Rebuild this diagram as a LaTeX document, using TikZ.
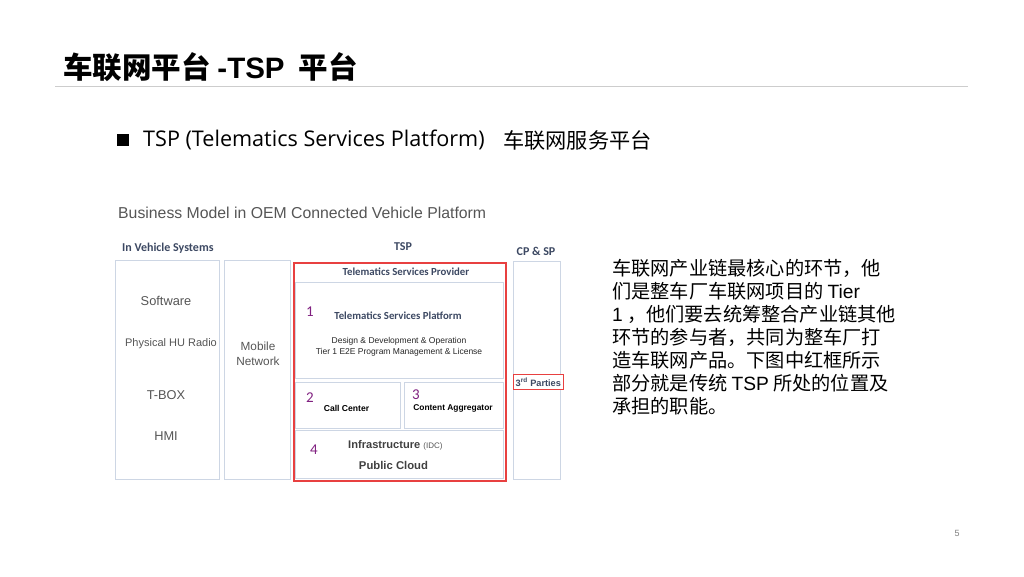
\documentclass[tikz,border=0pt]{standalone}
\usepackage{fontspec}
\setmainfont{Liberation Sans}
\newfontfamily\cjk{Noto Sans CJK SC}
\newfontfamily\calib{Carlito}
\newfontfamily\segoe{Open Sans}
\definecolor{boxc}{RGB}{205,214,228}
\definecolor{redc}{RGB}{232,64,64}
\definecolor{headc}{RGB}{60,72,98}
\definecolor{grayt}{RGB}{85,85,85}
\definecolor{purp}{RGB}{128,32,128}
\definecolor{linec}{RGB}{205,205,205}
\begin{document}
\begin{tikzpicture}[x=1pt,y=-1pt,
  box/.style={draw=boxc,line width=1pt,anchor=north west,inner sep=0pt},
  redbox/.style={draw=redc,line width=1.6pt,anchor=north west,inner sep=0pt},
  lbl/.style={inner sep=0pt},
  head/.style={lbl,font=\calib\bfseries\fontsize{12}{14}\selectfont,text=headc},
  sub/.style={lbl,font=\fontsize{12.8}{15}\selectfont,text=grayt},
  num/.style={lbl,font=\calib\fontsize{15}{17}\selectfont,text=purp},
  para/.style={lbl,anchor=west,font=\cjk\fontsize{19.2}{22}\selectfont}]
\useasboundingbox (0,0) rectangle (1024,576);
% title
\node[lbl,anchor=west,font=\cjk\bfseries\fontsize{29.5}{32}\selectfont] (title) at (63,67) {车联网平台 {\rmfamily\bfseries -TSP}\hspace{14pt}平台};
\coordinate (l1) at (55,86.5);
\coordinate (l2) at (968,86.5);
\draw[linec,line width=0.8pt] (l1) -- (l2);
% bullet
\node[lbl,fill=black,minimum size=12pt,anchor=center] (bul) at (123,140) {};
\node[lbl,anchor=west,font=\segoe\fontsize{21.6}{24}\selectfont] (bt) at (143,140) {TSP (Telematics Services Platform)};
\node[lbl,anchor=west,font=\cjk\fontsize{21.2}{24}\selectfont] (bc) at (503,140) {车联网服务平台};
% diagram title
\node[lbl,anchor=west,font=\fontsize{15.8}{18}\selectfont,text=grayt] (bm) at (118,213) {Business Model in OEM Connected Vehicle Platform};
% column heads
\node[head,anchor=west] (h1) at (122,248) {In Vehicle Systems};
\node[head] (h2) at (403,247) {TSP};
\node[head] (h3) at (536,251) {CP \& SP};
% boxes
\node[box,minimum width=104,minimum height=219] (ivs) at (115,260) {};
\node[box,minimum width=66,minimum height=219] (mob) at (224,260) {};
\node[box,minimum width=47,minimum height=218] (cps) at (513,261) {};
\node[box,minimum width=208,minimum height=96] (tsplat) at (295,282) {};
\node[box,minimum width=105,minimum height=46] (cc) at (295,382) {};
\node[box,minimum width=99,minimum height=46] (ca) at (404,382) {};
\node[box,minimum width=208,minimum height=48] (inf) at (295,430) {};
\node[redbox,minimum width=212,minimum height=218] (tsp) at (293,262) {};
\node[redbox,fill=white,minimum width=50,minimum height=15] (third) at (512.5,373.5) {};
% in-vehicle labels
\node[sub] (sw) at (166,301) {Software};
\node[sub,font=\fontsize{11}{13}\selectfont] (hu) at (171,344) {Physical HU Radio};
\node[sub] (tb) at (166,395) {T-BOX};
\node[sub] (hmi) at (166,436) {HMI};
\node[sub,align=center,font=\fontsize{11.8}{14.5}\selectfont] (mn) at (258,354) {Mobile\\Network};
% TSP labels
\node[head,font=\calib\bfseries\fontsize{10.8}{12}\selectfont] (tspv) at (406,272) {Telematics Services Provider};
\node[num] (n1) at (310,312) {1};
\node[head,font=\calib\bfseries\fontsize{10.8}{12}\selectfont] (tspf) at (398,316) {Telematics Services Platform};
\node[lbl,align=center,font=\fontsize{8.5}{10.5}\selectfont,text=black!85] (dd) at (399,347) {Design \& Development \& Operation\\Tier 1 E2E Program Management \& License};
\node[num] (n2) at (310,398) {2};
\node[lbl,font=\bfseries\fontsize{8.6}{10}\selectfont] (ccl) at (346.5,408) {Call Center};
\node[num] (n3) at (416,395) {3};
\node[lbl,font=\bfseries\fontsize{8.4}{10}\selectfont] (cal) at (453,408) {Content Aggregator};
\node[num] (n4) at (314,450) {4};
\node[lbl,anchor=west,font=\bfseries\fontsize{11.1}{12}\selectfont,text=black!75] (infl) at (348,445) {Infrastructure {\mdseries\fontsize{8}{9}\selectfont\color{grayt} (IDC)}};
\node[lbl,font=\bfseries\fontsize{11.3}{12}\selectfont,text=black!75] (pc) at (393.5,465) {Public Cloud};
\node[lbl,font=\bfseries\fontsize{9.2}{10}\selectfont,text=headc] (tpl) at (third.center) {3\textsuperscript{rd} Parties};
% paragraph
\node[para] (p1) at (612,268) {车联网产业链最核心的环节，他};
\node[para] (p2) at (612,291) {们是整车厂车联网项目的 {\rmfamily Tier}};
\node[para] (p3) at (612,314) {{\rmfamily 1} ，他们要去统筹整合产业链其他};
\node[para] (p4) at (612,337) {环节的参与者，共同为整车厂打};
\node[para] (p5) at (612,360) {造车联网产品。下图中红框所示};
\node[para] (p6) at (612,383) {部分就是传统 {\rmfamily TSP} 所处的位置及};
\node[para] (p7) at (612,406) {承担的职能。};
% page number
\node[lbl,font=\fontsize{9}{10}\selectfont,text=gray] (pg) at (957,533) {5};
\end{tikzpicture}
\end{document}
